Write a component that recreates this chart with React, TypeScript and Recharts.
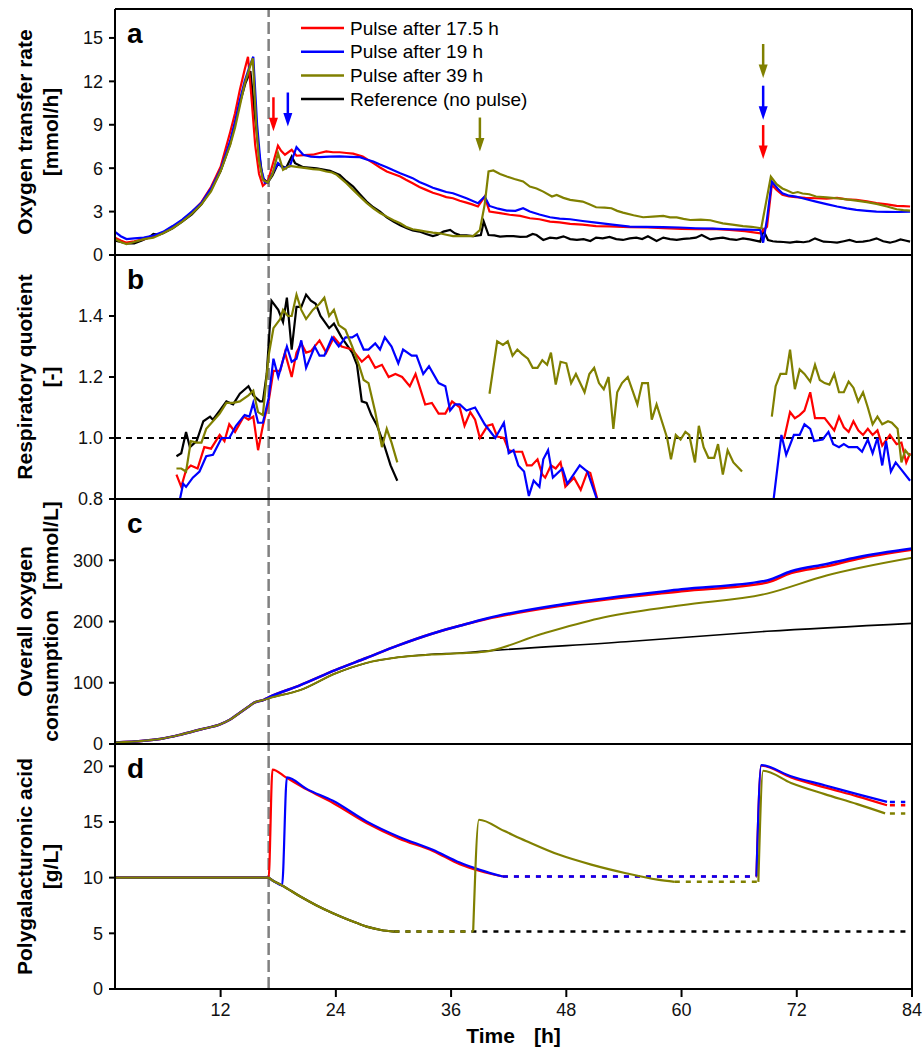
import React from 'react';
import { Label, Legend, Line, LineChart, ReferenceDot, ReferenceLine, XAxis, YAxis } from 'recharts';

type Pair = [number, number | null];

const FONT = '"Liberation Sans", Arial, Helvetica, sans-serif';
const RED = '#ff0000';
const BLUE = '#0000ff';
const OLIVE = '#808000';
const BLACK = '#000000';

// shared time axis
const timeDomain: [number, number] = [1, 84];
const timeTicks = [12, 24, 36, 48, 60, 72, 84];
const pulseStart = 17;

const names = {
    red: 'Pulse after 17.5 h',
    blue: 'Pulse after 19 h',
    olive: 'Pulse after 39 h',
    black: 'Reference (no pulse)',
};

// ---- a: oxygen transfer rate [mmol/h]
const otrTicks = [0, 3, 6, 9, 12, 15];
const otrRed: Pair[] = [
    [1, 1.2], [1.6, 1.0], [2.2, 0.85], [3, 0.95], [4, 1.1], [5, 1.3], [6, 1.55], [7, 1.9], [8, 2.4], [9, 2.95],
    [10, 3.65], [11, 4.7], [12, 6.1], [13, 8.5], [13.5, 9.8], [14, 11.4], [14.5, 12.8], [14.85, 13.7], [15.2, 11.0],
    [15.6, 7.6], [16.0, 5.6], [16.4, 4.78], [16.9, 5.08], [17.4, 6.2], [17.97, 7.55], [18.3, 7.2], [18.7, 6.93],
    [19.4, 7.27], [19.9, 6.86], [20.7, 6.9], [21.6, 6.93], [22.3, 7.05], [23.0, 7.16], [23.7, 7.1], [24.4, 7.1],
    [25.1, 7.05], [25.8, 7.0], [26.8, 6.81], [27.9, 6.35], [28.6, 6.05], [29.3, 5.77], [30.0, 5.6], [30.7, 5.42],
    [31.3, 5.2], [32.0, 4.96], [32.7, 4.7], [33.4, 4.5], [34.1, 4.3], [34.8, 4.16], [35.5, 4.0], [36.2, 3.92],
    [36.9, 3.75], [37.6, 3.62], [38.2, 3.5], [38.8, 3.35], [39.5, 4.04], [40.0, 3.0], [41.1, 2.89], [42.1, 2.78],
    [43.2, 2.7], [44.2, 2.54], [45.2, 2.47], [46.3, 2.31], [47.3, 2.25], [48.4, 2.15], [49.7, 2.1], [51.1, 2.0],
    [52.5, 1.98], [54.6, 1.92], [56.5, 1.9], [58.1, 1.85], [60, 1.8], [61.5, 1.78], [63.2, 1.8], [65, 1.73],
    [66.6, 1.65], [68.2, 1.5], [68.9, 1.96], [69.4, 4.85], [69.9, 4.5], [70.5, 4.16], [71.2, 4.05], [71.9, 4.0],
    [72.9, 3.95], [74, 3.92], [75.1, 3.9], [76.2, 3.95], [77.2, 3.85], [78.2, 3.81], [79.3, 3.7], [80.3, 3.58],
    [81.4, 3.5], [82.4, 3.39], [83.1, 3.38], [83.8, 3.35],
];
const otrBlue: Pair[] = [
    [1, 1.6], [1.6, 1.3], [2.2, 1.1], [3, 1.15], [4, 1.2], [5, 1.35], [6, 1.6], [7, 2.0], [8, 2.45], [9, 3.0],
    [10, 3.6], [11, 4.6], [12, 5.9], [13, 7.9], [13.5, 9.2], [14, 10.7], [14.5, 12.0], [15.0, 13.0], [15.4, 13.7],
    [15.8, 9.0], [16.2, 6.0], [16.6, 5.0], [16.9, 5.0], [17.4, 5.65], [17.97, 6.35], [18.5, 6.0], [19.2, 6.12],
    [19.9, 7.45], [20.6, 6.93], [21.4, 6.8], [22.3, 6.76], [23.3, 6.8], [24.4, 6.81], [25.5, 6.78], [26.5, 6.76],
    [27.2, 6.6], [27.9, 6.46], [28.6, 6.25], [29.3, 6.07], [30.0, 5.85], [30.7, 5.65], [31.3, 5.5], [32.0, 5.31],
    [32.7, 5.05], [33.4, 4.85], [34.1, 4.65], [34.8, 4.5], [35.5, 4.35], [36.2, 4.27], [36.9, 4.1], [37.6, 3.92],
    [38.2, 3.75], [38.8, 3.58], [39.5, 4.04], [40.0, 3.39], [40.9, 3.2], [41.8, 3.07], [42.7, 3.05], [43.5, 3.23],
    [44.2, 3.0], [45.2, 2.8], [46.3, 2.61], [47.3, 2.52], [48.4, 2.47], [49.7, 2.35], [51.1, 2.24], [52.8, 2.1],
    [54.6, 1.96], [56.3, 1.95], [58.1, 1.92], [59.8, 1.9], [61.5, 1.85], [63.3, 1.82], [65, 1.78], [66.6, 1.75],
    [68.2, 1.73], [68.5, 0.85], [68.9, 2.5], [69.4, 5.08], [70.0, 4.6], [70.5, 4.27], [71.2, 4.1], [71.9, 4.04],
    [73, 3.85], [74, 3.69], [75.1, 3.52], [76.2, 3.35], [77.2, 3.22], [78.2, 3.12], [79.3, 3.05], [80.3, 3.0],
    [81.4, 2.98], [82.6, 2.97], [83.8, 3.0],
];
const otrOlive: Pair[] = [
    [1, 1.1], [1.6, 0.9], [2.2, 0.75], [3, 0.9], [4, 1.1], [5, 1.2], [6, 1.5], [7, 1.85], [8, 2.3], [9, 2.85],
    [10, 3.5], [11, 4.4], [12, 5.8], [13, 7.6], [13.5, 8.8], [14, 10.3], [14.5, 11.8], [15.0, 12.9], [15.35, 13.6],
    [15.7, 9.0], [16.0, 6.5], [16.4, 5.19], [16.9, 5.0], [17.4, 5.6], [17.97, 7.04], [18.5, 5.89], [19.2, 6.16],
    [20.1, 6.07], [20.9, 6.0], [21.6, 5.93], [22.3, 5.9], [23.0, 5.77], [23.6, 5.7], [24.1, 5.54], [25.1, 4.96],
    [25.8, 4.5], [26.5, 4.04], [27.2, 3.6], [27.9, 3.23], [28.6, 2.9], [29.3, 2.65], [30.0, 2.4], [30.7, 2.19],
    [31.3, 1.95], [32.0, 1.78], [32.7, 1.7], [33.4, 1.62], [34.1, 1.55], [34.8, 1.5], [35.5, 1.4], [36.2, 1.31],
    [37.3, 1.3], [38.3, 1.31], [39.0, 1.73], [39.5, 3.5], [39.9, 5.77], [40.4, 5.84], [41.1, 5.6], [41.8, 5.42],
    [42.6, 5.25], [43.5, 5.08], [44.2, 4.73], [44.9, 4.6], [45.6, 4.38], [46.5, 4.04], [47.0, 4.15], [47.7, 3.95],
    [48.4, 3.81], [49.7, 3.69], [50.4, 3.5], [51.1, 3.3], [52.0, 3.28], [52.7, 3.23], [53.3, 3.05], [53.9, 2.93],
    [55.0, 2.75], [56.0, 2.61], [57.0, 2.65], [58.1, 2.7], [58.8, 2.6], [59.5, 2.6], [60.2, 2.5], [60.9, 2.42],
    [62.0, 2.45], [63.0, 2.4], [63.6, 2.3], [64.3, 2.19], [65.3, 2.1], [66.4, 2.0], [67.3, 1.95], [68.3, 1.85],
    [69.3, 5.42], [69.9, 4.9], [70.5, 4.6], [71.0, 4.45], [71.6, 4.27], [72.1, 4.35], [72.6, 4.25], [73.3, 4.2],
    [74, 4.04], [75.1, 3.98], [76.2, 3.92], [77.2, 3.85], [78.2, 3.76], [79.3, 3.65], [80.3, 3.53], [81.4, 3.35],
    [82.4, 3.16], [83.1, 3.1], [83.8, 3.07],
];
const otrBlack: Pair[] = [
    [1, 1.0], [1.6, 0.9], [2.2, 0.8], [3, 0.8], [3.8, 1.0], [4.5, 1.2], [5, 1.45], [5.6, 1.4], [6, 1.5], [7, 1.85],
    [8, 2.3], [9, 2.8], [10, 3.5], [11, 4.5], [12, 5.8], [13, 7.7], [14, 10.5], [14.6, 11.9], [15.1, 12.7],
    [15.5, 10.0], [16.0, 7.0], [16.4, 5.3], [16.9, 5.0], [17.4, 5.5], [17.97, 6.3], [18.8, 6.0], [19.4, 6.81],
    [19.75, 6.35], [20.6, 6.07], [22.0, 5.99], [23.4, 5.82], [24.4, 5.54], [25.1, 5.1], [25.8, 4.73], [26.5, 4.2],
    [27.2, 3.69], [27.9, 3.3], [28.6, 3.0], [29.3, 2.6], [30.0, 2.31], [30.7, 2.05], [31.4, 1.85], [32.0, 1.7],
    [32.7, 1.62], [33.4, 1.45], [34.1, 1.31], [34.6, 1.4], [35.2, 1.62], [35.9, 1.73], [36.4, 1.5], [36.9, 1.38],
    [37.6, 1.35], [38.3, 1.31], [39.1, 1.38], [39.4, 2.31], [39.9, 1.38], [40.5, 1.35], [41.1, 1.27], [41.8, 1.3],
    [42.5, 1.31], [43.2, 1.25], [43.9, 1.27], [44.5, 1.45], [44.9, 1.38], [45.6, 1.04], [46.3, 1.2], [47.0, 1.15],
    [47.7, 1.29], [48.4, 1.1], [49.1, 1.04], [49.8, 1.1], [50.5, 0.97], [51.1, 1.2], [51.8, 1.15], [52.5, 1.25],
    [53.2, 1.1], [53.9, 1.04], [54.6, 1.15], [55.3, 1.2], [55.9, 1.1], [56.5, 1.29], [57.4, 0.97], [58.1, 1.2],
    [58.8, 1.1], [59.5, 1.04], [60.2, 1.12], [60.9, 1.15], [61.5, 1.2], [62.1, 1.38], [63.0, 1.08], [63.6, 1.15],
    [64.3, 1.2], [65.0, 1.1], [65.7, 1.04], [66.4, 1.15], [67.1, 1.08], [68.2, 0.92], [68.5, 1.73], [69.0, 1.04],
    [69.5, 0.95], [69.9, 0.92], [70.6, 0.9], [71.3, 0.85], [72.0, 0.92], [72.7, 0.88], [73.3, 0.95], [73.9, 1.15],
    [74.8, 0.92], [75.5, 0.9], [76.2, 0.85], [76.9, 0.95], [77.5, 1.04], [78.2, 0.9], [78.9, 0.92], [79.6, 1.0],
    [80.3, 1.15], [81.0, 0.95], [81.7, 0.85], [82.3, 0.95], [82.8, 1.08], [83.3, 1.0], [83.8, 0.92],
];
// pulse arrows: [series, time h, arrow tip value]
const pulseArrows: Array<[keyof typeof names, number, number]> = [
    ['red', 17.5, 8.55], ['blue', 19, 8.88], ['olive', 39, 7.15],
    ['olive', 68.5, 12.23], ['blue', 68.5, 9.35], ['red', 68.5, 6.63],
];

// ---- b: respiratory quotient [-]
const rqTicks = [0.8, 1.0, 1.2, 1.4];
const rqBaseline = 1.0;
const rqRed: Pair[] = [
    [7.4, 0.88], [7.9, 0.84], [8.4, 0.895], [8.9, 0.91], [9.6, 0.9], [10.3, 0.97], [11, 0.965], [11.9, 1.01],
    [12.4, 0.99], [12.9, 1.045], [13.5, 1.02], [14.4, 1.07], [14.9, 1.06], [15.4, 1.07], [15.9, 0.96], [16.4, 1.04],
    [17, 1.12], [17.5, 1.22], [18.2, 1.22], [18.7, 1.28], [19.4, 1.2], [19.9, 1.28], [20.4, 1.31], [20.9, 1.28],
    [21.4, 1.285], [22.3, 1.32], [23, 1.28], [23.8, 1.33], [24.6, 1.3], [25.7, 1.29], [26.7, 1.25], [27.4, 1.27],
    [28.1, 1.23], [28.8, 1.24], [29.5, 1.2], [30.2, 1.21], [30.9, 1.2], [31.7, 1.17], [32.3, 1.21], [33.3, 1.11],
    [34, 1.115], [34.7, 1.08], [35.4, 1.08], [36.1, 1.12], [36.9, 1.1], [37.4, 1.04], [38, 1.085], [38.5, 1.06],
    [39, 1.0], [39.8, 1.04], [40.3, 1.045], [40.8, 1.005], [41.5, 1.0], [42, 0.96], [42.7, 0.955], [43.4, 0.955],
    [43.9, 0.91], [44.4, 0.91], [45, 0.93], [45.5, 0.88], [45.8, 0.87], [46.4, 0.91], [46.9, 0.9], [47.4, 0.92],
    [47.9, 0.84], [48.8, 0.87], [49.5, 0.83], [50.2, 0.89], [50.5, 0.885], [51.4, 0.78], [60, null],
    [70.4, 1.0], [70.7, 1.0], [71.3, 1.085], [71.8, 1.065], [72.3, 1.075], [72.8, 1.09], [73.4, 1.15], [73.9, 1.065],
    [74.9, 1.065], [75.9, 1.025], [76.4, 1.07], [76.9, 1.035], [77.4, 1.02], [77.9, 1.055], [78.4, 1.025],
    [78.9, 1.01], [79.4, 1.03], [79.9, 1.01], [80.4, 1.025], [80.9, 0.975], [81.7, 1.01], [82.4, 0.98],
    [82.9, 0.985], [83.4, 0.92], [83.8, 0.95],
];
const rqBlue: Pair[] = [
    [7.7, 0.79], [8.1, 0.85], [8.4, 0.84], [9.1, 0.87], [9.8, 0.89], [10.5, 0.94], [11.2, 0.945], [12.1, 1.0],
    [12.9, 1.0], [13.6, 1.04], [14.5, 1.075], [15, 1.07], [15.4, 1.115], [15.9, 1.05], [16.4, 1.05], [17, 1.13],
    [17.5, 1.26], [18, 1.2], [18.9, 1.3], [19.4, 1.25], [19.9, 1.26], [20.4, 1.32], [20.9, 1.23], [21.8, 1.3],
    [22.3, 1.27], [22.8, 1.27], [23.6, 1.33], [24.3, 1.3], [25, 1.33], [25.7, 1.33], [26.2, 1.34], [26.9, 1.29],
    [27.4, 1.29], [28.1, 1.31], [28.6, 1.29], [29.1, 1.33], [29.8, 1.3], [30.5, 1.245], [31, 1.29], [31.9, 1.27],
    [32.4, 1.27], [33.1, 1.21], [33.7, 1.235], [34.7, 1.18], [35.4, 1.17], [35.9, 1.09], [36.4, 1.11], [36.9, 1.11],
    [37.6, 1.09], [38.5, 1.1], [39.5, 1.045], [40.6, 1.0], [41.5, 1.05], [42, 0.95], [42.5, 0.96], [43, 0.91],
    [43.6, 0.89], [44.1, 0.81], [44.6, 0.86], [45.2, 0.84], [45.6, 0.93], [46.1, 0.96], [46.6, 0.87], [47.6, 0.9],
    [48.1, 0.85], [49.4, 0.91], [50.2, 0.89], [51.4, 0.78], [60, null],
    [69.4, 0.75], [70.4, 1.01], [70.9, 0.945], [71.7, 1.01], [72.3, 1.01], [72.8, 1.045], [73.4, 1.03], [73.8, 0.99],
    [74.7, 0.995], [75.3, 1.02], [75.8, 0.98], [76.4, 0.97], [76.9, 0.98], [77.4, 0.97], [78.3, 0.97], [78.8, 0.955],
    [79.4, 0.995], [79.9, 0.95], [80.4, 1.0], [80.9, 0.91], [81.3, 0.99], [81.8, 0.89], [82.3, 0.92], [83.8, 0.86],
];
const rqOlive: Pair[] = [
    [7.4, 0.9], [7.9, 0.9], [8.4, 0.89], [8.9, 0.99], [9.5, 0.985], [10, 0.985], [10.5, 1.03], [11.2, 1.055],
    [11.9, 1.08], [12.6, 1.115], [13.3, 1.115], [14, 1.12], [14.9, 1.14], [15.4, 1.155], [15.9, 1.085], [16.4, 1.075],
    [17, 1.27], [17.5, 1.36], [18.2, 1.39], [18.5, 1.42], [19, 1.4], [19.4, 1.4], [19.9, 1.47], [20.4, 1.42],
    [20.9, 1.39], [21.6, 1.42], [22.3, 1.44], [22.8, 1.46], [23.3, 1.4], [23.8, 1.42], [24.3, 1.37], [25, 1.355],
    [25.7, 1.3], [26.4, 1.24], [26.9, 1.19], [27.4, 1.18], [28.1, 1.085], [28.8, 0.97], [29.3, 1.03], [29.8, 0.985],
    [30.4, 0.92], [35, null],
    [40, 1.145], [40.8, 1.317], [41.4, 1.305], [41.9, 1.317], [42.4, 1.27], [42.9, 1.29], [43.4, 1.275], [44, 1.26],
    [44.5, 1.23], [45, 1.23], [45.5, 1.255], [46, 1.24], [46.4, 1.28], [46.9, 1.175], [47.4, 1.25], [48, 1.245],
    [48.5, 1.18], [49, 1.21], [49.9, 1.15], [50.4, 1.21], [50.9, 1.23], [51.4, 1.18], [51.9, 1.16], [52.4, 1.2],
    [52.9, 1.03], [53.3, 1.15], [53.8, 1.18], [54.4, 1.2], [55.4, 1.11], [55.9, 1.18], [56.5, 1.18], [56.9, 1.06],
    [57.4, 1.11], [58, 1.05], [58.5, 1.0], [58.9, 0.93], [59.4, 1.01], [59.9, 0.995], [60.4, 1.02], [60.8, 1.01],
    [61.4, 0.92], [61.8, 1.04], [62.3, 0.97], [62.8, 0.935], [63.4, 0.935], [63.8, 0.98], [64.3, 0.88], [64.8, 0.96],
    [65.4, 0.92], [66.3, 0.89], [68, null],
    [69.4, 1.07], [69.8, 1.17], [70.3, 1.21], [70.9, 1.21], [71.3, 1.29], [71.8, 1.16], [72.3, 1.225], [72.8, 1.21],
    [73.4, 1.185], [73.9, 1.24], [74.4, 1.19], [74.9, 1.18], [75.4, 1.175], [75.9, 1.21], [76.4, 1.15], [76.9, 1.15],
    [77.4, 1.185], [77.9, 1.165], [78.4, 1.12], [78.9, 1.15], [79.4, 1.1], [79.9, 1.045], [80.4, 1.07], [80.9, 1.045],
    [81.5, 1.055], [81.9, 1.05], [82.5, 1.03], [82.9, 0.92], [83.3, 0.96], [83.8, 0.94],
];
const rqBlack: Pair[] = [
    [7.4, 0.94], [7.9, 0.95], [8.4, 1.02], [8.8, 0.97], [9.5, 0.99], [10.2, 1.055], [10.9, 1.07], [11.2, 1.06],
    [11.9, 1.09], [12.6, 1.12], [13.3, 1.11], [14, 1.145], [14.9, 1.17], [15.4, 1.14], [16.1, 1.12], [16.4, 1.12],
    [16.8, 1.21], [17.3, 1.45], [18, 1.42], [18.5, 1.38], [18.9, 1.46], [19.4, 1.29], [19.9, 1.43], [20.4, 1.43],
    [20.9, 1.47], [21.4, 1.45], [21.9, 1.44], [22.4, 1.4], [23.3, 1.36], [23.8, 1.375], [24.6, 1.33], [25.7, 1.28],
    [26.2, 1.24], [26.7, 1.12], [27.2, 1.115], [27.7, 1.075], [28.3, 1.04], [29.1, 0.97], [29.7, 0.91], [30.4, 0.86],
];

// ---- c: overall oxygen consumption [mmol/L]
const oxTicks = [0, 100, 200, 300];
const oxEarly: Pair[] = [
    [1, 2.5], [4, 5.4], [6, 9], [8, 16], [10, 24], [12, 32.5], [13, 40], [14, 51], [15, 62], [15.5, 67.5], [16.5, 72],
];
const oxRed: Pair[] = [
    ...oxEarly, [17, 76], [20.3, 96], [24, 121], [27.1, 140], [30.5, 161], [34, 180], [36.9, 193], [39.7, 204],
    [48, 227], [60, 249.5], [68.9, 263.5], [71.4, 279], [75.1, 290], [78.3, 302], [84, 317],
];
const oxBlue: Pair[] = [
    ...oxEarly, [17, 76], [20.3, 96], [24, 121], [27.1, 140], [30.5, 161], [34, 180], [36.9, 193], [39.7, 205],
    [48, 229], [60, 252.5], [68.9, 267], [71.4, 282], [75.1, 294], [78.3, 305], [84, 319],
];
const oxOlive: Pair[] = [
    ...oxEarly, [17, 74.5], [20.3, 88], [24, 115.5], [27.1, 132], [30.5, 141.5], [34, 146], [36.9, 148],
    [39.5, 150.6], [45.5, 180], [51.4, 205], [60, 226.5], [68.9, 245.5], [75.1, 275], [84, 304],
];
const oxBlack: Pair[] = [
    ...oxEarly, [17, 74.5], [20.3, 88], [24, 115.5], [27.1, 132], [30.5, 141.5], [34, 146.5], [36.9, 148.5],
    [39.5, 151.7], [54.2, 167], [68.9, 184], [84, 197],
];

// ---- d: polygalacturonic acid [g/L], measured (solid) and held (dotted)
const pgaTicks = [0, 5, 10, 15, 20];
const pgaDecline: Pair[] = [
    [17.5, 9.7], [18.4, 9.3], [20.3, 8.3], [22, 7.5], [23.7, 6.8], [25.5, 6.15], [27.2, 5.6], [28.7, 5.3], [30.1, 5.16],
];
const pgaBlack: Pair[] = [[1, 10], [16.9, 10], ...pgaDecline];
const pgaBlackHeld: Pair[] = [[30.1, 5.16], [84, 5.16]];
const pgaOlive: Pair[] = [
    [1, 10], [16.9, 10], ...pgaDecline, [34, null],
    [38.3, 5.16], [38.9, 15.2], [41.5, 14.2], [43.8, 13.3], [47.2, 12.07], [50.6, 11.17], [54.1, 10.42], [57.5, 9.82],
    [59.3, 9.62], [64, null],
    [68.0, 9.62], [68.5, 19.6], [71.4, 18.5], [74.9, 17.5], [78.3, 16.6], [81.2, 15.77],
];
const pgaOliveHeld: Pair[] = [
    [30.1, 5.16], [38.3, 5.16], [48, null], [59.3, 9.62], [68.0, 9.62], [75, null], [81.7, 15.77], [83.3, 15.77],
];
const pgaRed: Pair[] = [
    [1, 10], [17.0, 10], [17.4, 19.7], [18.8, 19.0], [21, 17.9], [23.7, 16.7], [27.2, 14.9], [30.6, 13.5],
    [34.1, 12.4], [36.9, 11.2], [39, 10.6], [41.4, 10.1], [55, null],
    [67.8, 10.1], [68.3, 20.05], [71.4, 19.0], [74.9, 18.1], [78.3, 17.3], [81.4, 16.5],
];
const pgaRedHeld: Pair[] = [[41.4, 10.1], [67.8, 10.1], [75, null], [81.7, 16.5], [83.3, 16.5]];
const pgaBlue: Pair[] = [
    [1, 10], [16.9, 10], [17.5, 9.7], [18.4, 9.3], [18.9, 19.0], [21, 17.95], [23.7, 16.9], [27.2, 15.05],
    [30.6, 13.65], [34.1, 12.5], [36.9, 11.35], [39, 10.7], [41.4, 10.1], [55, null],
    [67.8, 10.1], [68.3, 20.1], [71.4, 19.1], [74.9, 18.3], [78.3, 17.5], [81.4, 16.8],
];
const pgaBlueHeld: Pair[] = [[41.4, 10.1], [67.8, 10.1], [75, null], [81.7, 16.8], [83.3, 16.8]];

// ---- layout
const WIDTH = 924;
const PLOT_LEFT = 115;
const PLOT_RIGHT = 912;
const YAXIS_W = 60;
const PAD = 10;
const EDGE = 1; // thin frame axes (an axis of size 0 is not drawn)
const axisStroke = { stroke: '#000', strokeWidth: 2 };
const tickText = { fontSize: 18, fill: '#111', fontFamily: FONT };
const seriesColor = { red: RED, blue: BLUE, olive: OLIVE, black: BLACK };

const toPoints = (pairs: Pair[]) => pairs.map(([t, v]) => ({ t, v }));

function series(id: string, data: Pair[], color: string, opts: { width?: number; dash?: string; curve?: 'linear' | 'monotone'; name?: string } = {}) {
    return (
        <Line
            key={id}
            data={toPoints(data)}
            dataKey="v"
            name={opts.name ?? id}
            legendType={opts.name ? 'line' : 'none'}
            type={opts.curve ?? 'linear'}
            stroke={color}
            strokeWidth={opts.width ?? 2.2}
            strokeDasharray={opts.dash}
            dot={false}
            activeDot={false}
            connectNulls={false}
            isAnimationActive={false}
        />
    );
}

function arrowShape(color: string) {
    return (props: any) => {
        const { cx, cy } = props;
        return (
            <g>
                <line x1={cx} x2={cx} y1={cy - 34} y2={cy - 12} stroke={color} strokeWidth={2.5} />
                <polygon points={`${cx - 4.5},${cy - 13.5} ${cx + 4.5},${cy - 13.5} ${cx},${cy}`} fill={color} />
            </g>
        );
    };
}

function LegendBox({ payload }: any) {
    const items = [...(payload ?? [])].sort((a, b) => String(a.value).localeCompare(String(b.value)));
    return (
        <svg width={240} height={100} style={{ display: 'block', overflow: 'visible' }}>
            {items.map((item, i) => {
                const cy = 12 + i * 23.7;
                return (
                    <g key={item.value}>
                        <line x1={1} x2={44} y1={cy} y2={cy} stroke={item.color} strokeWidth={2.5} />
                        <text x={50} y={cy + 6.7} fontSize={19} fontFamily={FONT} fill="#000">
                            {item.value}
                        </text>
                    </g>
                );
            })}
        </svg>
    );
}

function yTitle(line1: string, line2: string[], letter: string) {
    return (props: any) => {
        const { x, y, width, height } = props.viewBox;
        const axisX = x + width;
        const cy = y + height / 2;
        const b1 = axisX - 83;
        const b2 = axisX - 57;
        const style = { fontFamily: FONT, fontWeight: 700, fontSize: 21, fill: '#000' };
        return (
            <g>
                <text x={b1} y={cy} textAnchor="middle" transform={`rotate(-90 ${b1} ${cy})`} {...style}>
                    {line1}
                </text>
                <text x={b2} y={cy} textAnchor="middle" transform={`rotate(-90 ${b2} ${cy})`} {...style}>
                    {line2.map((part, i) => (
                        <tspan key={part} dx={i === 0 ? 0 : 20}>
                            {part}
                        </tspan>
                    ))}
                </text>
                <text x={axisX + 12} y={y + 34} fontFamily={FONT} fontWeight={700} fontSize={28} fill="#000">
                    {letter}
                </text>
            </g>
        );
    };
}

function timeTitle(props: any) {
    const { x, y, width } = props.viewBox;
    return (
        <text x={x + width / 2} y={y + 54} textAnchor="middle" fontFamily={FONT} fontWeight={700} fontSize={21} fill="#000">
            <tspan>Time</tspan>
            <tspan dx={19}>[h]</tspan>
        </text>
    );
}

type PanelProps = {
    top: number;
    bottom: number;
    domain: [number, number];
    ticks: number[];
    format?: (v: number) => string;
    title: [string, string[]];
    letter: string;
    first?: boolean;
    last?: boolean;
    children: React.ReactNode;
};

function Panel({ top, bottom, domain, ticks, format, title, letter, first, last, children }: PanelProps) {
    const xAxisH = last ? 64 : EDGE;
    const padBottom = last ? 0 : PAD - EDGE;
    const height = PAD + (bottom - top) + xAxisH + padBottom;
    return (
        <div style={{ position: 'absolute', left: 0, top: top - PAD }}>
            <LineChart
                width={WIDTH}
                height={height}
                margin={{ top: PAD - EDGE, right: WIDTH - PLOT_RIGHT - EDGE, bottom: padBottom, left: PLOT_LEFT - YAXIS_W }}
            >
                <XAxis
                    xAxisId="top"
                    orientation="top"
                    type="number"
                    dataKey="t"
                    domain={timeDomain}
                    ticks={timeTicks}
                    interval={0}
                    height={EDGE}
                    tick={false}
                    tickSize={-7}
                    tickLine={first ? false : axisStroke}
                    axisLine={axisStroke}
                    allowDataOverflow
                />
                <XAxis
                    type="number"
                    dataKey="t"
                    domain={timeDomain}
                    ticks={timeTicks}
                    interval={0}
                    height={xAxisH}
                    tick={last ? tickText : false}
                    tickSize={last ? 8 : -7}
                    tickMargin={6}
                    tickLine={axisStroke}
                    axisLine={axisStroke}
                    allowDataOverflow
                >
                    {last && <Label content={timeTitle} />}
                </XAxis>
                <YAxis
                    type="number"
                    domain={domain}
                    ticks={ticks}
                    interval={0}
                    width={YAXIS_W}
                    tick={tickText}
                    tickFormatter={format}
                    tickSize={6}
                    tickMargin={6}
                    tickLine={axisStroke}
                    axisLine={axisStroke}
                    allowDataOverflow
                >
                    <Label content={yTitle(title[0], title[1], letter)} />
                </YAxis>
                <YAxis
                    yAxisId="frame"
                    orientation="right"
                    type="number"
                    domain={[0, 1]}
                    ticks={[0, 1]}
                    width={EDGE}
                    tick={false}
                    tickLine={false}
                    axisLine={axisStroke}
                />
                <ReferenceLine x={pulseStart} stroke="#808080" strokeWidth={2.5} strokeDasharray="12 5" />
                {children}
            </LineChart>
        </div>
    );
}

export default function App() {
    return (
        <div style={{ position: 'absolute', left: 0, top: 0, width: WIDTH, height: 1053, background: '#fff', fontFamily: FONT }}>
            <Panel top={9} bottom={255} domain={[0, 17]} ticks={otrTicks} title={['Oxygen transfer rate', ['[mmol/h]']]} letter="a" first>
                {series('otrBlack', otrBlack, BLACK, { name: names.black })}
                {series('otrRed', otrRed, RED, { name: names.red })}
                {series('otrBlue', otrBlue, BLUE, { name: names.blue })}
                {series('otrOlive', otrOlive, OLIVE, { name: names.olive })}
                {pulseArrows.map(([key, t, v], i) => (
                    <ReferenceDot key={`arrow${i}`} x={t} y={v} r={0} shape={arrowShape(seriesColor[key])} />
                ))}
                <Legend
                    layout="vertical"
                    align="center"
                    verticalAlign="middle"
                    wrapperStyle={{ position: 'absolute', left: 300, top: 17, width: 240, height: 100 }}
                    content={(props: any) => <LegendBox payload={props.payload} />}
                />
            </Panel>
            <Panel
                top={255}
                bottom={499}
                domain={[0.8, 1.6]}
                ticks={rqTicks}
                format={(v) => v.toFixed(1)}
                title={['Respiratory quotient', ['[-]']]}
                letter="b"
            >
                <ReferenceLine y={rqBaseline} stroke="#000" strokeWidth={2} strokeDasharray="6 5" />
                {series('rqBlack', rqBlack, BLACK)}
                {series('rqRed', rqRed, RED)}
                {series('rqBlue', rqBlue, BLUE)}
                {series('rqOlive', rqOlive, OLIVE)}
            </Panel>
            <Panel top={499} bottom={744} domain={[0, 400]} ticks={oxTicks} title={['Overall oxygen', ['consumption', '[mmol/L]']]} letter="c">
                {series('oxBlack', oxBlack, BLACK, { curve: 'monotone', width: 1.6 })}
                {series('oxRed', oxRed, RED, { curve: 'monotone', width: 2.5 })}
                {series('oxBlue', oxBlue, BLUE, { curve: 'monotone', width: 2.5 })}
                {series('oxOlive', oxOlive, OLIVE, { curve: 'monotone', width: 2 })}
            </Panel>
            <Panel top={744} bottom={989} domain={[0, 22]} ticks={pgaTicks} title={['Polygalacturonic acid', ['[g/L]']]} letter="d" last>
                {series('pgaBlackHeld', pgaBlackHeld, BLACK, { dash: '5 6', width: 2.5 })}
                {series('pgaRedHeld', pgaRedHeld, RED, { dash: '5 6', width: 2.5 })}
                {series('pgaBlueHeld', pgaBlueHeld, BLUE, { dash: '5 6', width: 2.5 })}
                {series('pgaOliveHeld', pgaOliveHeld, OLIVE, { dash: '5 6', width: 2.5 })}
                {series('pgaBlack', pgaBlack, BLACK, { curve: 'monotone' })}
                {series('pgaRed', pgaRed, RED, { curve: 'monotone' })}
                {series('pgaBlue', pgaBlue, BLUE, { curve: 'monotone' })}
                {series('pgaOlive', pgaOlive, OLIVE, { curve: 'monotone' })}
            </Panel>
        </div>
    );
}
